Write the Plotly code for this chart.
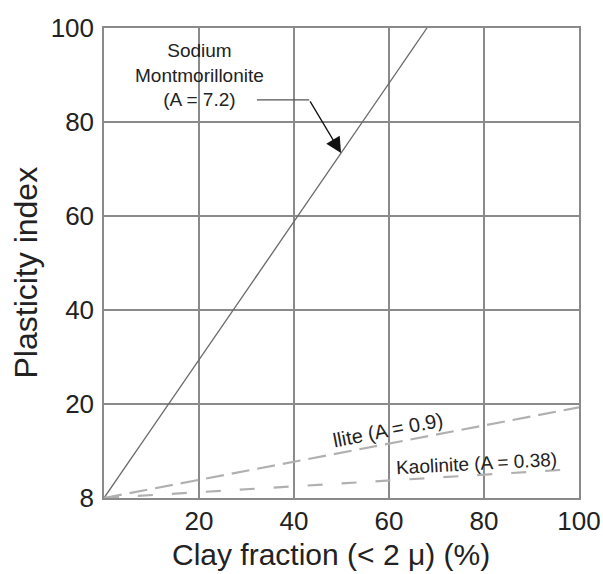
import plotly.graph_objects as go

# Data
mont_x = [0, 68]
mont_y = [0, 100]
illite_x = [0, 100]
illite_y = [0, 19.3]
kaol_x = [0, 100]
kaol_y = [0, 6.2]
x_ticks = [20, 40, 60, 80, 100]
x_ticklabels = ["20", "40", "60", "80", "100"]
y_ticks = [0, 20, 40, 60, 80, 100]
y_ticklabels = ["8", "20", "40", "60", "80", "100"]
leader_x = [32.2, 43.2]
leader_y = [84.7, 84.7]
arrow_head = (49.9, 73.4)

fig = go.Figure()
fig.add_trace(go.Scatter(x=mont_x, y=mont_y, mode="lines",
                         line=dict(color="#6a6a6a", width=1.3), hoverinfo="skip"))
fig.add_trace(go.Scatter(x=illite_x, y=illite_y, mode="lines",
                         line=dict(color="#b0b0b0", width=2.2, dash="18px,8px"), hoverinfo="skip"))
fig.add_trace(go.Scatter(x=kaol_x, y=kaol_y, mode="lines",
                         line=dict(color="#b0b0b0", width=2.2, dash="15px,19px"), hoverinfo="skip"))
fig.add_trace(go.Scatter(x=leader_x, y=leader_y, mode="lines",
                         line=dict(color="#555555", width=1.3), hoverinfo="skip"))

font = "Liberation Sans, Arial, sans-serif"
fig.add_annotation(x=arrow_head[0], y=arrow_head[1], ax=leader_x[1], ay=leader_y[1],
                   xref="x", yref="y", axref="x", ayref="y", text="",
                   showarrow=True, arrowhead=2, arrowsize=2.4, arrowwidth=1.3,
                   arrowcolor="#111111")
fig.add_annotation(x=20.2, y=90, xref="x", yref="y", showarrow=False,
                   text="Sodium<br>Montmorillonite<br>(A = 7.2)",
                   font=dict(family=font, size=19, color="#222222"), align="center")
fig.add_annotation(x=59.8, y=14.5, xref="x", yref="y", showarrow=False,
                   text="llite (A = 0.9)", textangle=-11,
                   font=dict(family=font, size=20, color="#222222"))
fig.add_annotation(x=78.5, y=7.4, xref="x", yref="y", showarrow=False,
                   text="Kaolinite (A = 0.38)", textangle=-3,
                   font=dict(family=font, size=19, color="#222222"))

# axis titles (positioned as in the reference)
fig.add_annotation(x=0.478, y=-0.121, xref="x domain", yref="y domain",
                   xanchor="center", yanchor="middle", showarrow=False,
                   text="Clay fraction (< 2 μ) (%)",
                   font=dict(family=font, size=30, color="#222222"))
fig.add_annotation(x=-0.165, y=0.479, xref="x domain", yref="y domain",
                   xanchor="center", yanchor="middle", showarrow=False, textangle=-90,
                   text="Plasticity index",
                   font=dict(family=font, size=32, color="#222222"))

axis_common = dict(showgrid=True, gridcolor="#8a8a8a", gridwidth=1.5,
                   showline=True, linecolor="#8a8a8a", linewidth=1.5, mirror=True,
                   zeroline=False, ticks="", automargin=False,
                   tickfont=dict(family=font, size=26, color="#222222"))
fig.update_xaxes(range=[0, 100], tickvals=x_ticks, ticktext=x_ticklabels,
                 ticklabelstandoff=-1, **axis_common)
fig.update_yaxes(range=[0, 100], tickvals=y_ticks, ticktext=y_ticklabels,
                 ticklabelstandoff=3, **axis_common)
fig.update_layout(width=603, height=574, showlegend=False,
                  margin=dict(l=104, r=24, t=28, b=76),
                  plot_bgcolor="white", paper_bgcolor="white")
fig.write_html("out.html", config={"displayModeBar": False},
               post_script="document.body.style.margin='0';document.body.style.overflow='hidden';")
